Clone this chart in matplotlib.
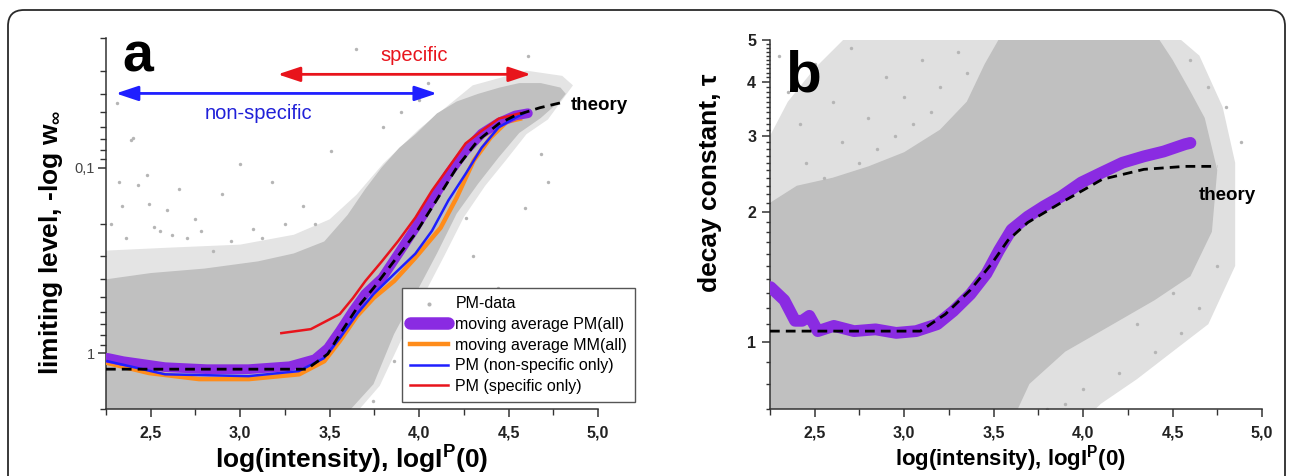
import numpy as np
import matplotlib.pyplot as plt
from matplotlib.ticker import FixedLocator, FixedFormatter, NullFormatter, LogLocator
from matplotlib.patches import FancyBboxPatch

plt.rcParams['font.family'] = ['Liberation Sans', 'DejaVu Sans']
plt.rcParams['mathtext.fontset'] = 'custom'
plt.rcParams['mathtext.rm'] = 'Liberation Sans'
plt.rcParams['mathtext.bf'] = 'Liberation Sans:bold'
plt.rcParams['mathtext.default'] = 'bf'

# ---- panel a : limiting level (inverted log axis) ----
# PM-data cloud, dense core (upper edge / lower edge)
a_top_x = [2.25, 2.5, 2.8, 3.1, 3.3, 3.47, 3.6, 3.7, 3.79, 3.89, 3.98, 4.1, 4.21, 4.33, 4.45, 4.56, 4.68, 4.79, 4.82]
a_top_y = [0.40, 0.37, 0.35, 0.32, 0.29, 0.25, 0.18, 0.13, 0.10, 0.078, 0.066, 0.051, 0.044, 0.040, 0.037, 0.035, 0.035, 0.037, 0.040]
a_low_x = [2.25, 3.58, 3.745, 3.86, 3.98, 4.10, 4.21, 4.33, 4.445, 4.56, 4.68, 4.79, 4.82]
a_low_y = [2.2, 2.2, 1.47, 0.79, 0.48, 0.29, 0.177, 0.122, 0.088, 0.065, 0.054, 0.0435, 0.040]
# thinner halo of the cloud
a_halo_top_x = [2.25, 2.6, 3.0, 3.3, 3.5, 3.65, 3.8, 4.0, 4.3, 4.6, 4.8, 4.86]
a_halo_top_y = [0.28, 0.27, 0.26, 0.23, 0.19, 0.14, 0.095, 0.062, 0.036, 0.030, 0.032, 0.036]
a_halo_low_x = [2.25, 3.63, 3.78, 3.9, 4.02, 4.14, 4.25, 4.37, 4.49, 4.6, 4.72, 4.86]
a_halo_low_y = [2.2, 2.2, 1.5, 0.85, 0.5, 0.3, 0.185, 0.125, 0.09, 0.066, 0.055, 0.036]
# scattered outliers
a_pts_x = [2.31, 2.40, 2.48, 2.43, 2.66, 2.90, 2.32, 2.49, 2.59, 3.07, 3.65, 2.39, 3.51, 3.18, 4.00, 4.61,
           4.68, 4.59, 4.26, 4.44, 4.21, 4.12, 3.74, 3.86, 3.98, 2.55, 2.75, 2.95, 3.25, 3.35, 2.85, 3.00,
           2.70, 4.72, 4.05, 3.80, 3.90, 4.30, 4.50, 4.35, 2.28, 2.36, 2.52, 2.62, 2.78, 3.12, 3.42, 2.34]
a_pts_y = [0.045, 0.069, 0.109, 0.124, 0.13, 0.138, 0.12, 0.157, 0.17, 0.213, 0.023, 0.071, 0.081, 0.12, 0.043, 0.025,
           0.084, 0.165, 0.186, 0.445, 0.79, 1.2, 1.8, 1.1, 0.65, 0.22, 0.19, 0.25, 0.2, 0.16, 0.28, 0.095,
           0.24, 0.12, 0.035, 0.06, 0.05, 0.3, 0.9, 0.6, 0.2, 0.24, 0.21, 0.23, 0.22, 0.24, 0.2, 0.16]

# moving averages
a_pm_x = [2.258, 2.347, 2.58, 2.813, 3.047, 3.277, 3.417, 3.49, 3.557, 3.63, 3.698, 3.794, 3.884, 3.979,
          4.072, 4.164, 4.26, 4.35, 4.445, 4.538, 4.608]
a_pm_y = [1.06, 1.105, 1.19, 1.22, 1.22, 1.176, 1.078, 0.94, 0.76, 0.593, 0.48, 0.393, 0.291, 0.211,
          0.15, 0.108, 0.0809, 0.0655, 0.0573, 0.0523, 0.0509]
a_mm_x = [2.258, 2.49, 2.77, 3.05, 3.33, 3.47, 3.557, 3.653, 3.746, 3.861, 3.979, 4.12, 4.21, 4.305,
          4.40, 4.49, 4.564]
a_mm_y = [1.13, 1.28, 1.38, 1.38, 1.30, 1.105, 0.86, 0.631, 0.504, 0.408, 0.306, 0.211, 0.145, 0.0917,
          0.0687, 0.0566, 0.0545]
a_nonspec_x = [2.258, 2.58, 3.047, 3.327, 3.468, 3.557, 3.653, 3.746, 3.861, 3.979, 4.072, 4.164, 4.26,
               4.35, 4.445, 4.538, 4.586]
a_nonspec_y = [1.105, 1.30, 1.33, 1.25, 1.064, 0.83, 0.615, 0.48, 0.374, 0.291, 0.219, 0.150, 0.108,
               0.078, 0.0606, 0.0538, 0.0509]
a_spec_x = [3.23, 3.395, 3.557, 3.63, 3.70, 3.794, 3.884, 3.979, 4.072, 4.164, 4.26, 4.35, 4.445, 4.564]
a_spec_y = [0.78, 0.742, 0.615, 0.505, 0.408, 0.318, 0.248, 0.186, 0.133, 0.100, 0.074, 0.0633, 0.0544, 0.0509]
a_theory_x = [2.25, 3.372, 3.49, 3.557, 3.653, 3.746, 3.861, 3.979, 4.097, 4.21, 4.328, 4.445, 4.538, 4.676, 4.80]
a_theory_y = [1.22, 1.22, 1.01, 0.79, 0.571, 0.445, 0.318, 0.227, 0.150, 0.100, 0.0715, 0.058, 0.0523, 0.0475, 0.0445]

# ---- panel b : decay constant ----
b_top_x = [2.25, 2.4, 2.6, 2.8, 3.0, 3.2, 3.35, 3.45, 3.55, 4.4, 4.5, 4.6, 4.68, 4.75]
b_top_y = [2.1, 2.3, 2.4, 2.55, 2.75, 3.1, 3.6, 4.4, 5.2, 5.2, 4.5, 3.8, 3.3, 2.5]
b_low_x = [2.25, 3.56, 3.7, 3.9, 4.1, 4.4, 4.6, 4.72, 4.75]
b_low_y = [0.6, 0.6, 0.8, 0.95, 1.06, 1.25, 1.42, 1.8, 2.5]
b_halo_top_x = [2.25, 2.35, 2.5, 2.7, 2.9, 4.5, 4.65, 4.78, 4.85]
b_halo_top_y = [3.0, 3.6, 4.3, 5.2, 5.2, 5.2, 4.6, 3.5, 2.6]
b_halo_low_x = [2.25, 3.9, 4.1, 4.3, 4.5, 4.7, 4.85]
b_halo_low_y = [0.6, 0.6, 0.72, 0.82, 0.95, 1.1, 1.5]
b_pts_x = [2.3, 2.35, 2.42, 2.5, 2.6, 2.7, 2.8, 2.9, 3.0, 3.1, 3.2, 2.45, 2.65, 2.85, 3.05, 3.3, 4.6, 4.7,
           4.8, 4.65, 4.55, 4.4, 4.2, 4.0, 3.9, 3.8, 4.3, 4.5, 4.75, 4.88, 2.55, 2.75, 2.95, 3.15, 3.35]
b_pts_y = [4.6, 3.8, 3.2, 4.4, 3.6, 4.8, 3.3, 4.1, 3.7, 4.5, 3.9, 2.6, 2.9, 2.8, 3.2, 4.7, 4.5, 3.9,
           3.5, 1.2, 1.05, 0.95, 0.85, 0.78, 0.72, 0.7, 1.1, 1.3, 1.5, 2.9, 2.4, 2.6, 3.0, 3.4, 4.2]
b_pm_x = [2.253, 2.33, 2.39, 2.43, 2.47, 2.517, 2.607, 2.72, 2.84, 2.955, 3.067, 3.185, 3.275, 3.37, 3.46,
          3.53, 3.60, 3.69, 3.78, 3.876, 3.99, 4.107, 4.22, 4.34, 4.45, 4.57, 4.60]
b_pm_y = [1.34, 1.25, 1.12, 1.12, 1.15, 1.06, 1.09, 1.06, 1.07, 1.05, 1.06, 1.10, 1.18, 1.29, 1.44,
          1.63, 1.82, 1.95, 2.06, 2.17, 2.34, 2.47, 2.60, 2.69, 2.76, 2.87, 2.89]
b_theory_x = [2.25, 3.09, 3.23, 3.37, 3.49, 3.58, 3.69, 3.876, 4.107, 4.34, 4.57, 4.75]
b_theory_y = [1.06, 1.06, 1.16, 1.32, 1.52, 1.72, 1.89, 2.10, 2.38, 2.51, 2.55, 2.55]

x_ticks = [2.5, 3.0, 3.5, 4.0, 4.5, 5.0]
x_ticklabels = ['2,5', '3,0', '3,5', '4,0', '4,5', '5,0']

CLOUD = '#c0c0c0'
PURPLE = '#8a2be2'
ORANGE = '#ff8c1a'
BLUE = '#1f1fff'
RED = '#e8141c'
AXC = '#333333'

W, H = 1293, 476
fig = plt.figure(figsize=(W / 100, H / 100), dpi=100)

# rounded frame around the whole figure
frame = FancyBboxPatch((0.08, -0.5), 12.77, 5.16, boxstyle='round,pad=0,rounding_size=0.16',
                       transform=fig.dpi_scale_trans, facecolor='none', edgecolor='#2a2a2a', linewidth=1.3)
fig.add_artist(frame)

ax_a = fig.add_axes([106 / W, 1 - 409 / H, 492 / W, 371 / H])
ax_b = fig.add_axes([770 / W, 1 - 409 / H, 492 / W, 369 / H])


def cloud(ax, tx, ty, lx, ly, color):
    px = np.concatenate([tx, lx[::-1]])
    py = np.concatenate([ty, ly[::-1]])
    ax.fill(px, py, color=color, lw=0, zorder=1)


def style_x(ax, fs):
    ax.set_xlim(2.25, 5.0)
    ax.xaxis.set_major_locator(FixedLocator(x_ticks))
    ax.xaxis.set_major_formatter(FixedFormatter(x_ticklabels))
    ax.xaxis.set_minor_locator(FixedLocator([2.25, 2.75, 3.25, 3.75, 4.25, 4.75]))
    for s in ['top', 'right']:
        ax.spines[s].set_visible(False)
    for s in ['left', 'bottom']:
        ax.spines[s].set_color(AXC)
        ax.spines[s].set_linewidth(1.1)
    ax.tick_params(axis='both', which='major', length=6, width=1.1, color=AXC, direction='out')
    ax.tick_params(axis='both', which='minor', length=4, width=1.0, color=AXC, direction='out')
    ax.tick_params(axis='x', labelsize=fs, pad=6, labelcolor='#222222')
    for lab in ax.get_xticklabels():
        lab.set_fontweight('bold')


# ---------- panel a ----------
cloud(ax_a, a_halo_top_x, a_halo_top_y, a_halo_low_x, a_halo_low_y, '#e4e4e4')
cloud(ax_a, a_top_x, a_top_y, a_low_x, a_low_y, CLOUD)
ax_a.scatter(a_pts_x, a_pts_y, s=6, color='#b5b5b5', lw=0, zorder=2, label='PM-data')
ax_a.plot(a_mm_x, a_mm_y, color=ORANGE, lw=3.2, zorder=3, label='moving average MM(all)')
ax_a.plot(a_pm_x, a_pm_y, color=PURPLE, lw=7, zorder=4, solid_capstyle='round',
          label='moving average PM(all)')
ax_a.plot(a_nonspec_x, a_nonspec_y, color=BLUE, lw=1.8, zorder=5, label='PM (non-specific only)')
ax_a.plot(a_spec_x, a_spec_y, color=RED, lw=1.8, zorder=5, label='PM (specific only)')
ax_a.plot(a_theory_x, a_theory_y, color='black', lw=2.0, ls=(0, (3.5, 2.2)), zorder=6)

ax_a.set_yscale('log')
ax_a.set_ylim(2.0, 0.02)
ax_a.yaxis.set_major_locator(FixedLocator([0.1, 1]))
ax_a.yaxis.set_major_formatter(FixedFormatter(['0,1', '1']))
ax_a.yaxis.set_minor_locator(LogLocator(base=10, subs=np.arange(2, 10)))
ax_a.yaxis.set_minor_formatter(NullFormatter())
style_x(ax_a, 11.5)
ax_a.tick_params(axis='y', labelsize=10.5, labelcolor='#444444', pad=2)

ax_a.annotate('', xy=(4.10, 0.0398), xytext=(2.305, 0.0398),
              arrowprops=dict(arrowstyle='<|-|>,head_length=0.9,head_width=0.3', color=BLUE, lw=2,
                              shrinkA=0, shrinkB=0, mutation_scale=15), zorder=7)
ax_a.annotate('', xy=(4.625, 0.0314), xytext=(3.21, 0.0314),
              arrowprops=dict(arrowstyle='<|-|>,head_length=0.9,head_width=0.3', color=RED, lw=2,
                              shrinkA=0, shrinkB=0, mutation_scale=15), zorder=7)
ax_a.text(3.97, 0.0247, 'specific', color=RED, fontsize=14.5, ha='center', va='center')
ax_a.text(3.10, 0.051, 'non-specific', color='#2020d8', fontsize=14.5, ha='center', va='center')
ax_a.text(4.85, 0.0463, 'theory', fontsize=13.5, fontweight='bold', ha='left', va='center')

ax_a.set_ylabel(r'limiting level, -log w$_{\infty}$', fontsize=19, fontweight='bold')
ax_a.yaxis.label.set_va('center')
ax_a.yaxis.set_label_coords(-0.112, 0.45)
ax_a.set_xlabel(r'log(intensity), logI$^{P}$(0)', fontsize=19, fontweight='bold')
ax_a.xaxis.label.set_va('center')
ax_a.xaxis.set_label_coords(0.5, -0.137)

handles, labels = ax_a.get_legend_handles_labels()
order = ['PM-data', 'moving average PM(all)', 'moving average MM(all)',
         'PM (non-specific only)', 'PM (specific only)']
hmap = dict(zip(labels, handles))
leg = ax_a.legend([hmap[k] for k in order], order, loc='upper left', bbox_to_anchor=(0.6016, 0.326),
                  bbox_transform=ax_a.transAxes, fontsize=11.5, frameon=True, fancybox=False,
                  edgecolor='#555555', framealpha=1, borderaxespad=0, handlelength=2.4,
                  handletextpad=0.45, labelspacing=0.36, borderpad=0.5, markerscale=1.2)
leg.get_frame().set_linewidth(1.0)
leg.legend_handles[1].set_linewidth(9)
leg.set_zorder(10)

# ---------- panel b ----------
cloud(ax_b, b_halo_top_x, b_halo_top_y, b_halo_low_x, b_halo_low_y, '#e0e0e0')
cloud(ax_b, b_top_x, b_top_y, b_low_x, b_low_y, CLOUD)
ax_b.scatter(b_pts_x, b_pts_y, s=6, color='#b5b5b5', lw=0, zorder=2)
ax_b.plot(b_pm_x, b_pm_y, color=PURPLE, lw=8.5, zorder=4, solid_capstyle='round', solid_joinstyle='round')
ax_b.plot(b_theory_x, b_theory_y, color='black', lw=2.0, ls=(0, (3.5, 2.2)), zorder=6)

ax_b.set_yscale('log')
ax_b.set_ylim(0.7, 5.0)
ax_b.yaxis.set_major_locator(FixedLocator([1, 2, 3, 4, 5]))
ax_b.yaxis.set_major_formatter(FixedFormatter(['1', '2', '3', '4', '5']))
ax_b.yaxis.set_minor_locator(FixedLocator(np.arange(0.7, 5.0, 0.1)))
ax_b.yaxis.set_minor_formatter(NullFormatter())
style_x(ax_b, 11.5)
ax_b.tick_params(axis='y', labelsize=11.5, labelcolor='#222222', pad=4)
ax_b.tick_params(axis='y', which='minor', length=3)
for lab in ax_b.get_yticklabels():
    lab.set_fontweight('bold')
ax_b.text(4.646, 2.18, 'theory', fontsize=13.5, fontweight='bold', ha='left', va='center')

ax_b.set_ylabel('decay constant, τ', fontsize=19, fontweight='bold')
ax_b.yaxis.label.set_va('center')
ax_b.yaxis.set_label_coords(-0.122, 0.612)
ax_b.set_xlabel(r'log(intensity), logI$^{P}$(0)', fontsize=16, fontweight='bold')
ax_b.xaxis.label.set_va('center')
ax_b.xaxis.set_label_coords(0.488, -0.133)

# panel letters
fig.text(122 / W, 1 - 72 / H, 'a', fontsize=40, fontweight='bold', va='baseline', ha='left')
fig.text(785 / W, 1 - 92 / H, 'b', fontsize=42, fontweight='bold', va='baseline', ha='left')

fig.savefig('out.png', dpi=100)
